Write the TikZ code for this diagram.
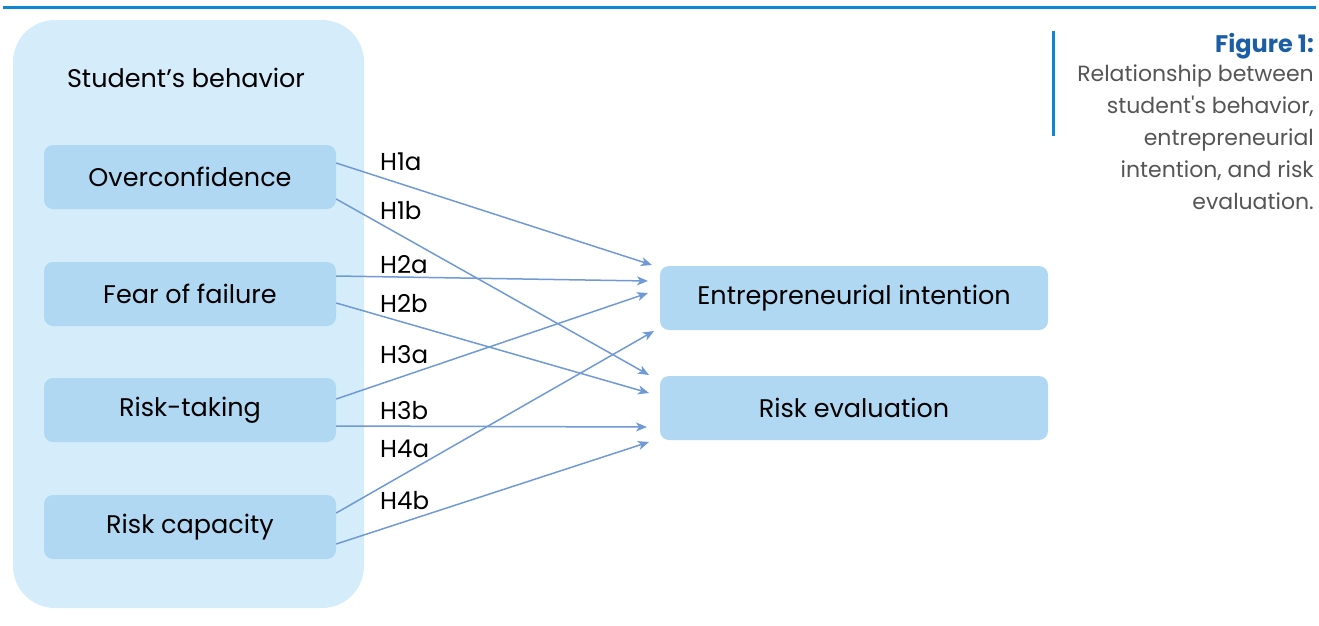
\documentclass[tikz,border=0pt]{standalone}
\usepackage{fontspec}
\setmainfont{Poppins}
\newfontfamily\captionfont{Poppins}
\usetikzlibrary{arrows.meta}
\definecolor{outerbg}{HTML}{D5ECFA}
\definecolor{innerbg}{HTML}{B0D8F3}
\definecolor{arr}{HTML}{6F9AD6}
\definecolor{topline}{HTML}{0D86D3}
\definecolor{figblue}{HTML}{1C5EA6}
\definecolor{captxt}{HTML}{555555}
\tikzset{
  factor/.style={fill=innerbg, draw=none, rounded corners=9pt, minimum width=292pt, minimum height=64pt, font=\fontsize{25.5}{30}\selectfont, inner sep=0pt},
  outcome/.style={fill=innerbg, draw=none, rounded corners=9pt, minimum width=388pt, minimum height=64pt, font=\fontsize{25.5}{30}\selectfont, inner sep=0pt},
  hyp/.style={draw=arr, line width=1.5pt, -{Stealth[length=11pt,width=9pt,inset=3pt]}},
  hlab/.style={font=\fontsize{24.5}{28}\selectfont, anchor=west, inner sep=0pt},
  captionstyle/.style={font=\captionfont\fontsize{22}{32}\selectfont, text=captxt, anchor=north east, align=right, inner sep=0pt}
}
\begin{document}
\begin{tikzpicture}[x=1pt,y=-1pt]
\useasboundingbox (0,0) rectangle (1319,625);
\fill[topline] (3,5.5) rectangle (1316,9);
\fill[outerbg, rounded corners=42pt] (13,20) rectangle (364,608);
\node[font=\fontsize{25.5}{30}\selectfont, inner sep=0pt] (title) at (186,78) {Student’s behavior};
\node[factor] (oc) at (190,177) {Overconfidence};
\node[factor] (ff) at (190,294) {Fear of failure};
\node[factor] (rt) at (190,410) {Risk-taking};
\node[factor] (rc) at (190,527) {Risk capacity};
\node[outcome] (ei) at (854,298) {Entrepreneurial intention};
\node[outcome] (re) at (854,408) {Risk evaluation};
\coordinate (eiA) at (652,265);
\coordinate (eiB) at (648,281);
\coordinate (eiC) at (648,293);
\coordinate (eiD) at (654,331);
\coordinate (reA) at (649,375);
\coordinate (reB) at (649,393);
\coordinate (reC) at (647,427);
\coordinate (reD) at (649,442);
\draw[hyp] ([yshift=14pt]oc.east) -- (eiA);
\draw[hyp] ([yshift=-22pt]oc.east) -- (reA);
\draw[hyp] ([yshift=18pt]ff.east) -- (eiB);
\draw[hyp] ([yshift=-9pt]ff.east) -- (reB);
\draw[hyp] ([yshift=11pt]rt.east) -- (eiC);
\draw[hyp] ([yshift=-16pt]rt.east) -- (reC);
\draw[hyp] ([yshift=14pt]rc.east) -- (eiD);
\draw[hyp] ([yshift=-17pt]rc.east) -- (reD);
\node[hlab] (l1a) at (380,162) {H1a};
\node[hlab] (l1b) at (380,211) {H1b};
\node[hlab] (l2a) at (380,265) {H2a};
\node[hlab] (l2b) at (380,304) {H2b};
\node[hlab] (l3a) at (380,355) {H3a};
\node[hlab] (l3b) at (380,411) {H3b};
\node[hlab] (l4a) at (380,449) {H4a};
\node[hlab] (l4b) at (380,501) {H4b};
\fill[topline] (1052,31) rectangle (1055,136);
\node[font=\bfseries\fontsize{24}{30}\selectfont, text=figblue, anchor=north east, inner sep=0pt] (fig) at (1314,33) {Figure 1:};
\node[captionstyle] (captext) at (1314,65) {Relationship between\\student's behavior,\\entrepreneurial\\intention, and risk\\evaluation.};
\end{tikzpicture}
\end{document}
